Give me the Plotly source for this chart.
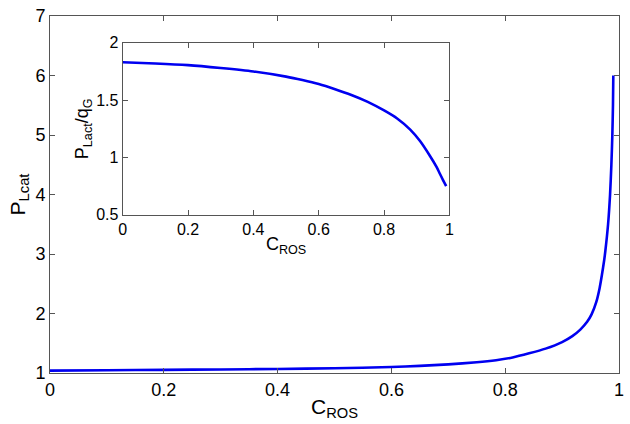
import plotly.graph_objects as go

# Main curve: P_Lcat vs C_ROS
c_main = [0, 0.1, 0.2, 0.3, 0.4, 0.5, 0.6, 0.65, 0.7, 0.75, 0.784, 0.813, 0.842, 0.871,
          0.9, 0.918, 0.932, 0.944, 0.952, 0.96, 0.966, 0.97, 0.974, 0.976, 0.9808,
          0.9843, 0.9866, 0.9883, 0.9894, 0.99]
p_lcat = [1.04, 1.046, 1.053, 1.06, 1.068, 1.08, 1.10, 1.12, 1.145, 1.18, 1.215, 1.26, 1.33, 1.41,
          1.52, 1.62, 1.73, 1.86, 1.99, 2.19, 2.43, 2.65, 2.90, 3.05, 3.5,
          4.0, 4.5, 5.0, 5.5, 6.0]

# Inset curve: P_Lact/q_G vs C_ROS
c_inset = [0, 0.1, 0.2, 0.3, 0.4, 0.5, 0.55, 0.6, 0.65, 0.7, 0.75, 0.8, 0.84, 0.88,
           0.91, 0.94, 0.96, 0.97, 0.98, 0.99]
p_ratio = [1.83, 1.82, 1.805, 1.78, 1.75, 1.705, 1.675, 1.64, 1.595, 1.545, 1.485, 1.41, 1.34, 1.243,
           1.143, 1.015, 0.92, 0.863, 0.805, 0.75]

main_xticks = [0, 0.2, 0.4, 0.6, 0.8, 1]
main_yticks = [1, 2, 3, 4, 5, 6, 7]
inset_xticks = [0, 0.2, 0.4, 0.6, 0.8, 1]
inset_yticks = [0.5, 1, 1.5, 2]

FONT = "Liberation Sans, Arial, Helvetica, sans-serif"
AX = "#555555"
BLUE = "#0000f0"

fig = go.Figure()
fig.add_trace(go.Scatter(x=c_main, y=p_lcat, mode="lines",
                         line=dict(color=BLUE, width=2.6, shape="spline", smoothing=0.6),
                         xaxis="x", yaxis="y", showlegend=False))
fig.add_trace(go.Scatter(x=c_inset, y=p_ratio, mode="lines",
                         line=dict(color=BLUE, width=2.6, shape="spline", smoothing=0.6),
                         xaxis="x2", yaxis="y2", showlegend=False))

common = dict(showline=True, linecolor=AX, linewidth=1, mirror="ticks", ticks="inside",
              ticklen=5, tickcolor=AX, showgrid=False, zeroline=False)

fig.update_layout(
    width=630, height=424,
    margin=dict(l=50, r=6, t=10, b=51),
    paper_bgcolor="white", plot_bgcolor="white",
    font=dict(family=FONT, color="black"),
    hovermode=False,
    xaxis=dict(domain=[0, 1], range=[0, 1], tickvals=main_xticks,
               ticktext=[f"{v:g}" for v in main_xticks], tickfont=dict(size=18),
               title=dict(text="C<sub>ROS</sub>", font=dict(size=21), standoff=0), **common),
    yaxis=dict(domain=[0, 1], range=[1, 7], tickvals=main_yticks,
               ticktext=[f"{v:g}" for v in main_yticks], tickfont=dict(size=18),
               title=dict(text="P<sub>Lcat</sub>", font=dict(size=21), standoff=4), **common),
    xaxis2=dict(domain=[0.1277, 0.702], range=[0, 1], anchor="y2", tickvals=inset_xticks,
                ticktext=[f"{v:g}" for v in inset_xticks], tickfont=dict(size=16),
                title=dict(text="C<sub>ROS</sub>", font=dict(size=18), standoff=0), **common),
    yaxis2=dict(domain=[0.443, 0.925], range=[0.5, 2], anchor="x2", tickvals=inset_yticks,
                ticktext=[f"{v:g}" for v in inset_yticks], tickfont=dict(size=16),
                title=dict(text="P<sub>Lact</sub>/q<sub>G</sub>", font=dict(size=18), standoff=2),
                **common),
)

fig.write_html("out.html", config={"displayModeBar": False},
               post_script="document.body.style.margin='0';")
